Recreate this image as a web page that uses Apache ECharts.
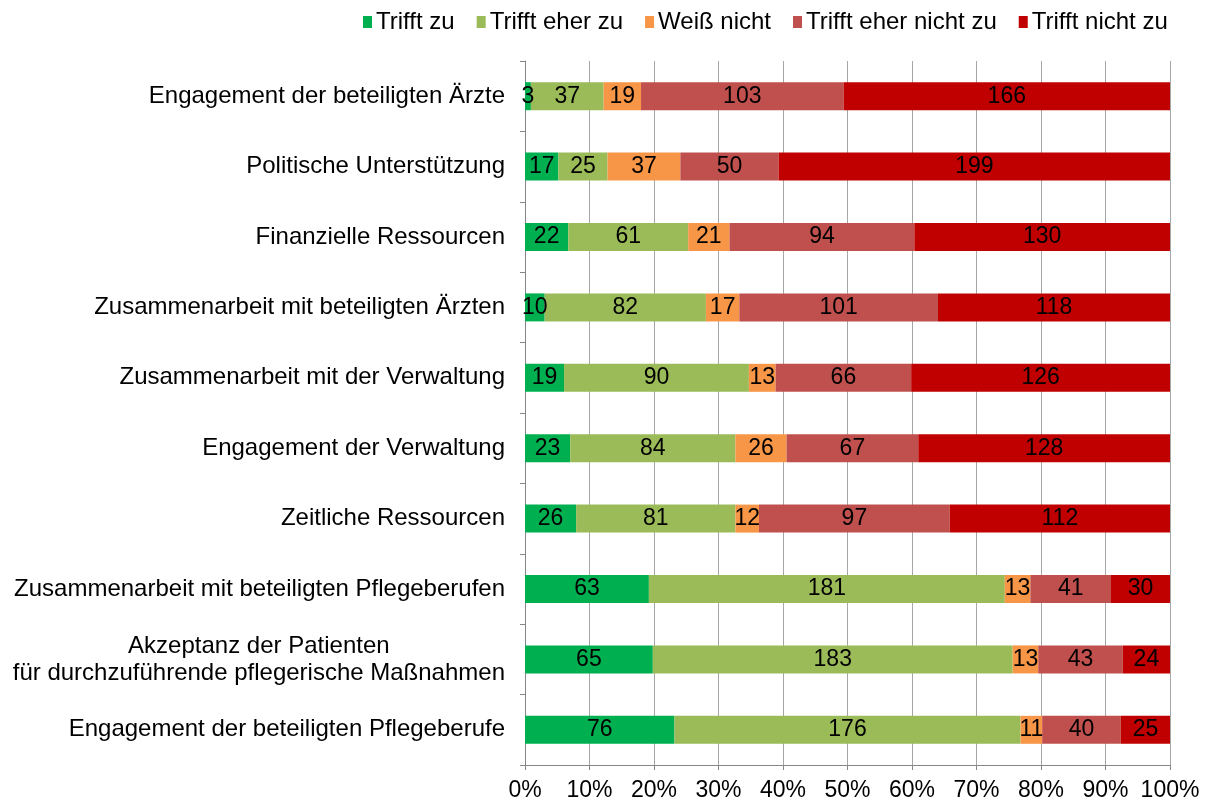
<!DOCTYPE html>
<html>
<head>
<meta charset="utf-8">
<script src="https://cdn.jsdelivr.net/npm/echarts@6/dist/echarts.min.js"></script>
<style>
html, body { margin: 0; padding: 0; background: #fff; }
#main { width: 1207px; height: 805px; }
</style>
</head>
<body>
<div id="main"></div>
<script>
var categories = [
    'Engagement der beteiligten Ärzte',
    'Politische Unterstützung',
    'Finanzielle Ressourcen',
    'Zusammenarbeit mit beteiligten Ärzten',
    'Zusammenarbeit mit der Verwaltung',
    'Engagement der Verwaltung',
    'Zeitliche Ressourcen',
    'Zusammenarbeit mit beteiligten Pflegeberufen',
    'Akzeptanz der Patienten\nfür durchzuführende pflegerische Maßnahmen',
    'Engagement der beteiligten Pflegeberufe'
];
var seriesNames = ['Trifft zu', 'Trifft eher zu', 'Weiß nicht', 'Trifft eher nicht zu', 'Trifft nicht zu'];
var triffZu        = [3, 17, 22, 10, 19, 23, 26, 63, 65, 76];
var triffEherZu    = [37, 25, 61, 82, 90, 84, 81, 181, 183, 176];
var weissNicht     = [19, 37, 21, 17, 13, 26, 12, 13, 13, 11];
var eherNichtZu    = [103, 50, 94, 101, 66, 67, 97, 41, 43, 40];
var nichtZu        = [166, 199, 130, 118, 126, 128, 112, 30, 24, 25];
var colors = ['#00b050', '#9bbb59', '#f79646', '#c0504d', '#c00000'];

var counts = [triffZu, triffEherZu, weissNicht, eherNichtZu, nichtZu];
var totals = categories.map(function (c, i) {
    var s = 0;
    counts.forEach(function (arr) { s += arr[i]; });
    return s;
});

var dom = document.getElementById('main');
var myChart = echarts.init(dom);
var font = 'Liberation Sans, Arial, sans-serif';

var series = counts.map(function (arr, k) {
    return {
        name: seriesNames[k],
        type: 'bar',
        stack: 'total',
        barWidth: 28,
        itemStyle: { color: colors[k] },
        label: {
            show: true,
            position: 'inside',
            color: '#000',
            fontFamily: font,
            fontSize: 23,
            formatter: function (p) { return arr[p.dataIndex]; }
        },
        data: arr.map(function (v, i) { return v / totals[i] * 100; })
    };
});

var option = {
    animation: false,
    textStyle: { fontFamily: font },
    legend: {
        top: 5,
        left: 358,
        icon: 'rect',
        itemWidth: 9,
        itemHeight: 12,
        itemGap: 22,
        textStyle: { color: '#000', fontSize: 24, fontFamily: font, padding: [0, 0, 0, -1] },
        data: seriesNames
    },
    grid: { left: 525, right: 37, top: 61, bottom: 40 },
    xAxis: {
        type: 'value',
        min: 0,
        max: 100,
        interval: 10,
        axisLine: { show: true, lineStyle: { color: '#868686' } },
        axisTick: { show: true, length: 5, lineStyle: { color: '#868686' } },
        axisLabel: { formatter: '{value}%', color: '#000', fontSize: 23, fontFamily: font, margin: 14 },
        splitLine: { show: true, lineStyle: { color: '#a6a6a6' } }
    },
    yAxis: {
        type: 'category',
        inverse: true,
        data: categories,
        axisLine: { show: true, lineStyle: { color: '#868686' } },
        axisTick: { show: true, length: 5, lineStyle: { color: '#868686' } },
        axisLabel: {
            color: '#000', fontSize: 24, fontFamily: font, margin: 20, align: 'right', lineHeight: 27,
            formatter: function (v) {
                return v.split('\n').map(function (s) { return '{c|' + s + '}'; }).join('\n');
            },
            rich: { c: { align: 'center', fontSize: 24, lineHeight: 27, fontFamily: font, color: '#000' } }
        }
    },
    series: series
};
myChart.setOption(option, true);
</script>
</body>
</html>
